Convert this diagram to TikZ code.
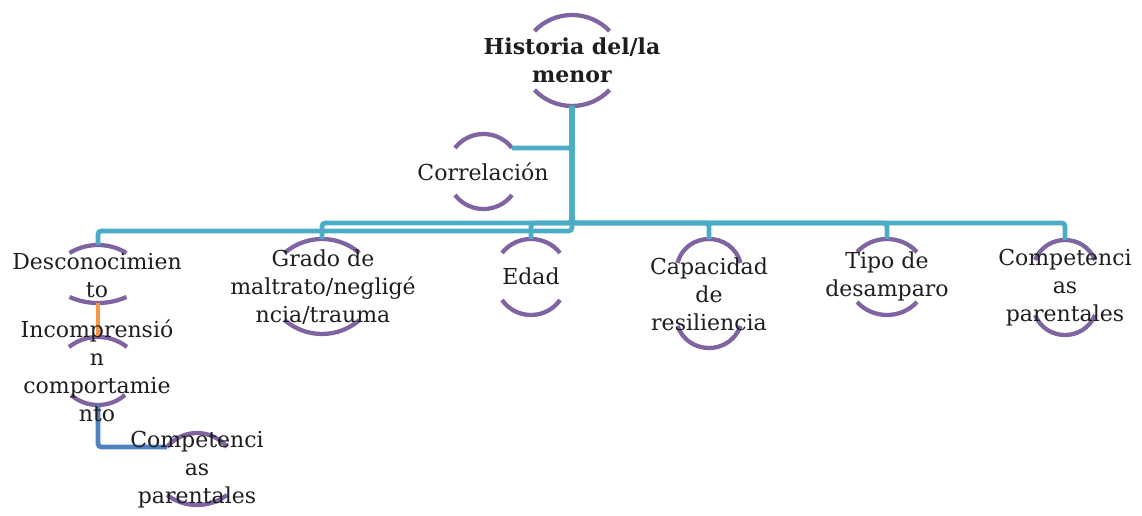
\documentclass[tikz,border=0pt]{standalone}
\usepackage{fontspec}
\setmainfont{DejaVu Serif}
\definecolor{cTeal}{HTML}{4BACC6}
\definecolor{cPurp}{HTML}{8064A2}
\definecolor{cOrng}{HTML}{F79646}
\definecolor{cBlue}{HTML}{4F81BD}
\definecolor{cText}{HTML}{1E1E1E}
\tikzset{
  arcline/.style={draw=cPurp, line width=3.2pt},
  conn/.style={draw=cTeal, line width=3.6pt, rounded corners=2.5pt},
  lbl/.style={text=cText, align=center, inner sep=0pt, font=\fontsize{16.5}{21}\selectfont},
}
% one bracket arc: #1 centre x, #2 apex y, #3 end y, #4 half chord (pixels, y downwards)
\newcommand\harc[4]{%
  \pgfmathsetmacro\hT{(#3-#2)/#4}%
  \pgfmathsetmacro\hA{#1-#4+2/3*#4*(1-\hT*\hT)}%
  \pgfmathsetmacro\hB{#1+#4-2/3*#4*(1-\hT*\hT)}%
  \pgfmathsetmacro\hY{-#3+4/3*(#3-#2)}%
  \draw[arcline] (#1-#4,-#3) .. controls (\hA,\hY) and (\hB,\hY) .. (#1+#4,-#3);%
}
% name, cx, top apex, top end, top half chord, bottom end, bottom apex, bottom half chord
\newcommand\ovnode[8]{%
  \harc{#2}{#3}{#4}{#5}%
  \harc{#2}{#7}{#6}{#8}%
  \coordinate (#1-t) at (#2,-#3);%
  \coordinate (#1-b) at (#2,-#7);%
  \coordinate (#1-tl) at (#2-#5,-#4);%
  \coordinate (#1-tr) at (#2+#5,-#4);%
}
\begin{document}
\begin{tikzpicture}[x=0.75pt,y=0.75pt]
\useasboundingbox (0,0) rectangle (1142,-516);
% bracket arcs
\ovnode{root}{572}{15}{31}{37.5}{90}{106}{37.5}
\ovnode{corr}{483.5}{134}{148}{28.5}{195}{209}{28.5}
\ovnode{d}{98}{245}{253}{28.5}{297}{303}{28.5}
\ovnode{i}{98}{337}{347}{29}{395}{405}{27}
\ovnode{p2}{197}{433}{447}{30}{495}{505}{30}
\ovnode{g}{322}{239}{253}{37.5}{320}{334}{37.5}
\ovnode{e}{531}{239}{253}{29}{300}{315}{29}
\ovnode{cap}{709}{239}{263}{31.5}{326}{348}{31.5}
\ovnode{t}{887}{239}{252}{30}{302}{315}{30}
\ovnode{p1}{1065}{240}{260}{30}{315}{335}{30}
\coordinate (bus1) at (572,-223);
\coordinate (bus2) at (572,-231);
% connectors
\draw[conn] (root-b) |- (corr-tr);
\draw[conn] (root-b) -- (bus2) -| (d-t);
\draw[conn] (root-b) -- (bus1) -| (g-t);
\draw[conn] (root-b) -- (bus1) -| (e-t);
\draw[conn] (root-b) -- (bus1) -| (cap-t);
\draw[conn] (root-b) -- (bus1) -| (t-t);
\draw[conn] (root-b) -- (bus1) -| (p1-t);
\draw[conn, draw=cOrng] (d-b) -- (i-t);
\draw[conn, draw=cBlue] (i-b) |- (p2-tl);
% texts
\node[lbl] (root) at (572,-60) {\textbf{Historia del/la}\\\textbf{menor}};
\node[lbl] (corr) at (483,-172) {Correlación};
\node[lbl] (d) at (97,-276) {Desconocimien\\to};
\node[lbl] (i) at (97,-371) {Incomprensió\\n\\comportamie\\nto};
\node[lbl] (p2) at (197,-470) {Competenci\\as\\parentales};
\node[lbl] (g) at (323,-287) {Grado de\\maltrato/neglig\'e\\ncia/trauma};
\node[lbl] (e) at (531,-276) {Edad};
\node[lbl] (cap) at (709,-294) {Capacidad\\de\\resiliencia};
\node[lbl] (t) at (887,-276) {Tipo de\\desamparo};
\node[lbl] (p1) at (1065,-288) {Competenci\\as\\parentales};
\end{tikzpicture}
\end{document}
